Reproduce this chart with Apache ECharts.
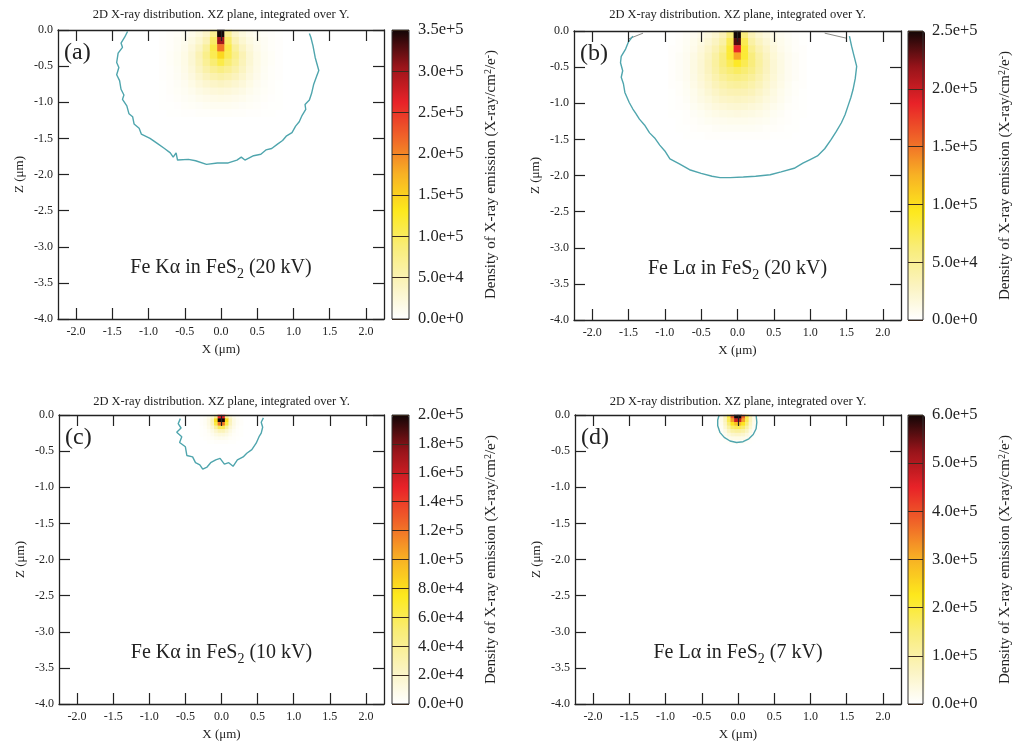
<!DOCTYPE html>
<html>
<head>
<meta charset="utf-8">
<title>2D X-ray distribution</title>
<script src="https://cdn.jsdelivr.net/npm/echarts@6/dist/echarts.min.js"></script>
<style>
html,body{margin:0;padding:0;background:#fff;}
#main{width:1015px;height:743px;}
</style>
</head>
<body>
<div id="main"></div>
<script>
var FONT = '"Liberation Serif", "DejaVu Serif", serif';

// tick labels
var xTicks = [-2.0, -1.5, -1.0, -0.5, 0.0, 0.5, 1.0, 1.5, 2.0];
var barMax = [350000, 250000, 200000, 600000];
var barStep = [50000, 50000, 20000, 100000];
var tags = ['(a)', '(b)', '(c)', '(d)'];
var lines = ['Fe K\u03b1', 'Fe L\u03b1', 'Fe K\u03b1', 'Fe L\u03b1'];
var volts = ['20 kV', '20 kV', '10 kV', '7 kV'];

// emission maps, 1e3 X-ray/cm2/e-, rows top->down, columns left->right
var mapStep = [0.1, 0.1, 0.05, 0.05];
var mapX0 = [-0.8, -0.9, -0.275, -0.275];   // x of first column
var mapZ0 = [-0.05, -0.05, -0.025, -0.025]; // z of first row

var mapA = [
    [1,3,5,9,14,22,35,70,350,70,35,22,14,9,5,3,1],
    [2,4,7,12,19,30,48,95,300,95,48,30,19,12,7,4,2],
    [2,4,8,14,24,40,65,110,210,110,65,40,24,14,8,4,2],
    [2,5,9,16,28,48,75,105,145,105,75,48,28,16,9,5,2],
    [2,5,9,16,28,46,68,90,110,90,68,46,28,16,9,5,2],
    [2,4,8,15,25,40,56,70,80,70,56,40,25,15,8,4,2],
    [2,4,7,13,21,32,43,52,57,52,43,32,21,13,7,4,2],
    [1,3,6,10,16,24,31,36,39,36,31,24,16,10,6,3,1],
    [1,3,5,8,12,17,21,24,26,24,21,17,12,8,5,3,1],
    [1,2,4,6,8,11,13,15,16,15,13,11,8,6,4,2,1],
    [1,1,2,4,5,6,8,9,9,9,8,6,5,4,2,1,1],
    [0,1,1,2,2,3,3,4,4,4,3,3,2,2,1,1,0]
];
var mapB = [
    [1,2,4,7,11,16,23,34,60,250,60,34,23,16,11,7,4,2,1],
    [1,3,5,9,14,20,29,42,75,235,75,42,29,20,14,9,5,3,1],
    [2,3,6,10,17,25,36,52,85,185,85,52,36,25,17,10,6,3,2],
    [2,4,7,12,19,29,42,60,85,130,85,60,42,29,19,12,7,4,2],
    [2,4,7,13,20,31,44,60,75,90,75,60,44,31,20,13,7,4,2],
    [2,4,7,13,20,30,42,55,64,70,64,55,42,30,20,13,7,4,2],
    [2,4,7,12,19,27,37,47,54,57,54,47,37,27,19,12,7,4,2],
    [2,3,6,11,17,24,32,39,44,46,44,39,32,24,17,11,6,3,2],
    [1,3,5,9,14,20,26,32,35,36,35,32,26,20,14,9,5,3,1],
    [1,2,4,8,12,16,21,25,27,28,27,25,21,16,12,8,4,2,1],
    [1,2,3,6,9,12,16,18,20,21,20,18,16,12,9,6,3,2,1],
    [1,1,2,4,6,9,11,13,14,15,14,13,11,9,6,4,2,1,1],
    [0,1,2,3,4,6,7,8,9,9,9,8,7,6,4,3,2,1,0],
    [0,1,1,2,3,3,4,5,5,5,5,5,4,3,3,2,1,1,0],
    [0,0,1,1,1,2,2,2,2,2,2,2,2,2,1,1,1,0,0]
];
var mapC = [
    [1,3,7,16,40,150,150,40,16,7,3,1],
    [2,4,10,26,80,200,200,80,26,10,4,2],
    [2,4,10,24,65,120,120,65,24,10,4,2],
    [1,3,8,16,36,60,60,36,16,8,3,1],
    [1,2,5,10,18,26,26,18,10,5,2,1],
    [1,2,3,6,10,13,13,10,6,3,2,1],
    [0,1,2,3,5,6,6,5,3,2,1,0],
    [0,0,1,1,2,2,2,2,1,1,0,0]
];
var mapD = [
    [6,25,80,190,380,600,600,380,190,80,25,6],
    [6,25,75,180,320,480,480,320,180,75,25,6],
    [5,20,65,150,230,280,280,230,150,65,20,5],
    [4,15,50,105,160,180,180,160,105,50,15,4],
    [3,10,32,70,98,108,108,98,70,32,10,3],
    [2,6,18,38,55,60,60,55,38,18,6,2],
    [1,3,9,18,25,28,28,25,18,9,3,1],
    [0,1,3,6,9,10,10,9,6,3,1,0]
];

// outer iso-line of each map, [x, z] in um
var edgeA = [[-1.29,-0.02],[-1.33,-0.10],[-1.38,-0.18],[-1.36,-0.24],[-1.42,-0.32],[-1.44,-0.45],[-1.41,-0.52],[-1.44,-0.62],[-1.40,-0.70],[-1.38,-0.82],[-1.34,-0.90],[-1.36,-0.96],[-1.30,-1.05],[-1.27,-1.16],[-1.22,-1.20],[-1.20,-1.30],[-1.13,-1.36],[-1.10,-1.44],[-0.98,-1.50],[-0.88,-1.57],[-0.78,-1.64],[-0.70,-1.70],[-0.66,-1.76],[-0.62,-1.70],[-0.60,-1.80],[-0.45,-1.79],[-0.35,-1.81],[-0.20,-1.86],[-0.05,-1.84],[0.10,-1.84],[0.22,-1.80],[0.28,-1.76],[0.33,-1.80],[0.45,-1.74],[0.55,-1.72],[0.62,-1.66],[0.70,-1.64],[0.78,-1.58],[0.85,-1.53],[0.90,-1.47],[0.98,-1.42],[1.03,-1.33],[1.08,-1.27],[1.12,-1.18],[1.17,-1.10],[1.16,-1.03],[1.22,-0.97],[1.25,-0.88],[1.28,-0.75],[1.32,-0.64],[1.35,-0.56],[1.30,-0.38],[1.27,-0.22],[1.24,-0.10],[1.22,-0.05]];
var edgeB = [[-1.44,-0.07],[-1.50,-0.15],[-1.54,-0.25],[-1.60,-0.35],[-1.61,-0.44],[-1.58,-0.55],[-1.60,-0.64],[-1.57,-0.73],[-1.55,-0.85],[-1.49,-0.99],[-1.44,-1.08],[-1.40,-1.14],[-1.35,-1.22],[-1.28,-1.30],[-1.21,-1.41],[-1.14,-1.48],[-1.07,-1.58],[-1.00,-1.66],[-0.93,-1.77],[-0.80,-1.84],[-0.66,-1.92],[-0.50,-1.97],[-0.35,-2.01],[-0.24,-2.03],[-0.10,-2.03],[0.08,-2.02],[0.25,-2.01],[0.45,-1.99],[0.60,-1.95],[0.78,-1.90],[0.90,-1.83],[1.00,-1.78],[1.10,-1.73],[1.20,-1.63],[1.29,-1.50],[1.36,-1.39],[1.43,-1.27],[1.48,-1.16],[1.52,-1.04],[1.56,-0.92],[1.59,-0.81],[1.62,-0.66],[1.64,-0.49],[1.60,-0.33],[1.57,-0.21],[1.54,-0.07]];
var edgeC = [[-0.57,-0.05],[-0.60,-0.12],[-0.56,-0.18],[-0.62,-0.24],[-0.55,-0.30],[-0.58,-0.38],[-0.50,-0.44],[-0.48,-0.56],[-0.40,-0.58],[-0.36,-0.66],[-0.30,-0.69],[-0.26,-0.75],[-0.20,-0.72],[-0.15,-0.66],[-0.08,-0.62],[-0.02,-0.60],[0.04,-0.68],[0.10,-0.66],[0.16,-0.71],[0.22,-0.62],[0.30,-0.58],[0.35,-0.53],[0.42,-0.48],[0.48,-0.39],[0.52,-0.30],[0.55,-0.25],[0.57,-0.17],[0.55,-0.10],[0.58,-0.04]];
var edgeD = [[-0.26,0],[-0.28,-0.07],[-0.28,-0.15],[-0.25,-0.24],[-0.19,-0.31],[-0.11,-0.36],[-0.02,-0.38],[0.07,-0.37],[0.15,-0.33],[0.21,-0.27],[0.25,-0.19],[0.26,-0.10],[0.25,0]];
// short grey pieces at the top of (b)
var stubB1 = [[-1.50,-0.11],[-1.30,-0.03]];
var stubB2 = [[1.20,-0.03],[1.50,-0.10]];

var maps = [mapA, mapB, mapC, mapD];
var edges = [edgeA, edgeB, edgeC, edgeD];

var heatColors = ['#ffffff','#fbf3bc','#f9ed78','#fde91c','#f8b224','#f06628','#e82228','#98141a','#120606'];
var boxes = [
    {l: 58, t: 30, w: 326, h: 289, cb: 392, tt: 15},
    {l: 574, t: 31, w: 327, h: 289, cb: 908, tt: 15},
    {l: 59, t: 415, w: 325, h: 289, cb: 392, tt: 402},
    {l: 575, t: 415, w: 326, h: 289, cb: 908, tt: 402}
];
var INK = '#222';

function idx(n){
    var a = [];
    for (var i = 0; i < n; i++) a.push(i);
    return a;
}
function cells(rows, x0, z0, step){
    var out = [];
    for (var i = 0; i < rows.length; i++) {
        for (var j = 0; j < rows[i].length; j++) {
            if (!rows[i][j]) continue;
            var xi = Math.round((x0 + j * step + 2.25) / step - 0.5);
            var zi = Math.round((-z0 + i * step) / step - 0.5);
            out.push([xi, zi, rows[i][j] * 1000]);
        }
    }
    return out;
}
function fmt1(v){ return (Math.abs(v) < 1e-9 ? 0 : v).toFixed(1); }

var grid = [], xAxis = [], yAxis = [], series = [], visualMap = [], graphic = [];

for (var k = 0; k < 4; k++) {
    var b = boxes[k];
    var st = mapStep[k];
    grid.push({left: b.l, top: b.t, width: b.w, height: b.h, show: false});
    grid.push({left: b.l, top: b.t, width: b.w, height: b.h, show: false});
    grid.push({left: b.cb, top: b.t, width: 17, height: b.h, show: true,
        borderColor: '#333', borderWidth: 1, backgroundColor: 'transparent', z: 6});

    var frameLine = {show: true, onZero: false, lineStyle: {color: INK, width: 1.3}};
    var tick = {show: true, inside: true, length: 11, lineStyle: {color: INK, width: 1.2}};

    xAxis.push({gridIndex: 3*k, type: 'category', data: idx(Math.round(4.5 / st)), show: false});
    xAxis.push({gridIndex: 3*k+1, type: 'value', min: -2.25, max: 2.25, position: 'bottom', z: 5,
        axisLine: frameLine,
        axisTick: {show: true, inside: true, length: 11, lineStyle: tick.lineStyle, customValues: xTicks},
        axisLabel: {customValues: xTicks, formatter: fmt1, color: INK, fontFamily: FONT, fontSize: 12, margin: 7},
        splitLine: {show: false},
        name: 'X (\u03bcm)', nameLocation: 'middle', nameGap: 24,
        nameTextStyle: {color: INK, fontFamily: FONT, fontSize: 13}});
    xAxis.push({gridIndex: 3*k+1, type: 'value', min: -2.25, max: 2.25, position: 'top', z: 5,
        axisLine: frameLine,
        axisTick: {show: true, inside: true, length: 11, lineStyle: tick.lineStyle, customValues: xTicks},
        axisLabel: {show: false}, splitLine: {show: false}});
    xAxis.push({gridIndex: 3*k+2, type: 'value', min: 0, max: 1, show: false});

    yAxis.push({gridIndex: 3*k, type: 'category', data: idx(Math.round(4 / st)), inverse: true, show: false});
    yAxis.push({gridIndex: 3*k+1, type: 'value', min: -4, max: 0, interval: 0.5, position: 'left', z: 5,
        axisLine: frameLine, axisTick: tick,
        axisLabel: {formatter: fmt1, color: INK, fontFamily: FONT, fontSize: 12, margin: 5},
        splitLine: {show: false},
        name: 'Z (\u03bcm)', nameLocation: 'middle', nameGap: 32,
        nameTextStyle: {color: INK, fontFamily: FONT, fontSize: 13}});
    yAxis.push({gridIndex: 3*k+1, type: 'value', min: -4, max: 0, interval: 0.5, position: 'right', z: 5,
        axisLine: frameLine, axisTick: tick, axisLabel: {show: false}, splitLine: {show: false}});
    yAxis.push({gridIndex: 3*k+2, type: 'value', min: 0, max: barMax[k], interval: barStep[k], position: 'right', z: 6,
        axisLine: {show: false}, axisTick: {show: false},
        axisLabel: {formatter: function(v){ return v.toExponential(1); }, color: INK, fontFamily: FONT, fontSize: 16.5, margin: 9},
        splitLine: {show: true, lineStyle: {color: '#3a2a1e', width: 1}},
        name: 'Density of X-ray emission (X-ray/cm{sup|2}/e{sup|-})', nameLocation: 'middle', nameGap: 74,
        nameTextStyle: {color: INK, fontFamily: FONT, fontSize: 15, lineHeight: 17,
            rich: {sup: {fontFamily: FONT, fontSize: 10, verticalAlign: 'top', lineHeight: 10, color: INK}}}});

    series.push({
        type: 'heatmap', xAxisIndex: 4*k, yAxisIndex: 4*k,
        data: cells(maps[k], mapX0[k], mapZ0[k], st),
        itemStyle: {borderWidth: 0}, emphasis: {disabled: true}, silent: true
    });
    visualMap.push({
        type: 'continuous', seriesIndex: series.length - 1, min: 0, max: barMax[k],
        left: b.cb, top: b.t, itemWidth: 17, itemHeight: b.h, padding: 0,
        calculable: false, hoverLink: false, realtime: false,
        inRange: {color: heatColors}
    });
    series.push({
        type: 'line', xAxisIndex: 4*k+1, yAxisIndex: 4*k+1, data: edges[k],
        symbol: 'none', silent: true, z: 4,
        lineStyle: {color: '#4fa5ad', width: 1.4}
    });

    graphic.push({type: 'text', x: b.l + b.w / 2, y: b.tt, z: 10,
        style: {text: '2D X-ray distribution. XZ plane, integrated over Y.', fill: INK,
            font: '12.5px ' + FONT, textAlign: 'center', textVerticalAlign: 'middle'}});
    graphic.push({type: 'text', x: b.l + 6, y: b.t + 23, z: 10,
        style: {text: tags[k], fill: INK, font: '24px ' + FONT, textAlign: 'left', textVerticalAlign: 'middle'}});
    graphic.push({type: 'text', x: b.l + b.w / 2, y: b.t + 238, z: 10,
        style: {text: lines[k] + ' in FeS{sub|2} (' + volts[k] + ')', fill: INK,
            fontFamily: FONT, fontSize: 20, lineHeight: 26, textAlign: 'center', textVerticalAlign: 'middle',
            rich: {sub: {fontFamily: FONT, fontSize: 14, verticalAlign: 'bottom', lineHeight: 14, fill: INK}}}});
}

series.push({type: 'line', xAxisIndex: 5, yAxisIndex: 5, data: stubB1, symbol: 'none', silent: true,
    lineStyle: {color: '#8a8a86', width: 1}});
series.push({type: 'line', xAxisIndex: 5, yAxisIndex: 5, data: stubB2, symbol: 'none', silent: true,
    lineStyle: {color: '#8a8a86', width: 1}});

var myChart = echarts.init(document.getElementById('main'));
var option = {
    backgroundColor: '#ffffff',
    animation: false,
    textStyle: {fontFamily: FONT},
    grid: grid,
    xAxis: xAxis,
    yAxis: yAxis,
    visualMap: visualMap,
    series: series,
    graphic: graphic
};
myChart.setOption(option);
</script>
</body>
</html>
